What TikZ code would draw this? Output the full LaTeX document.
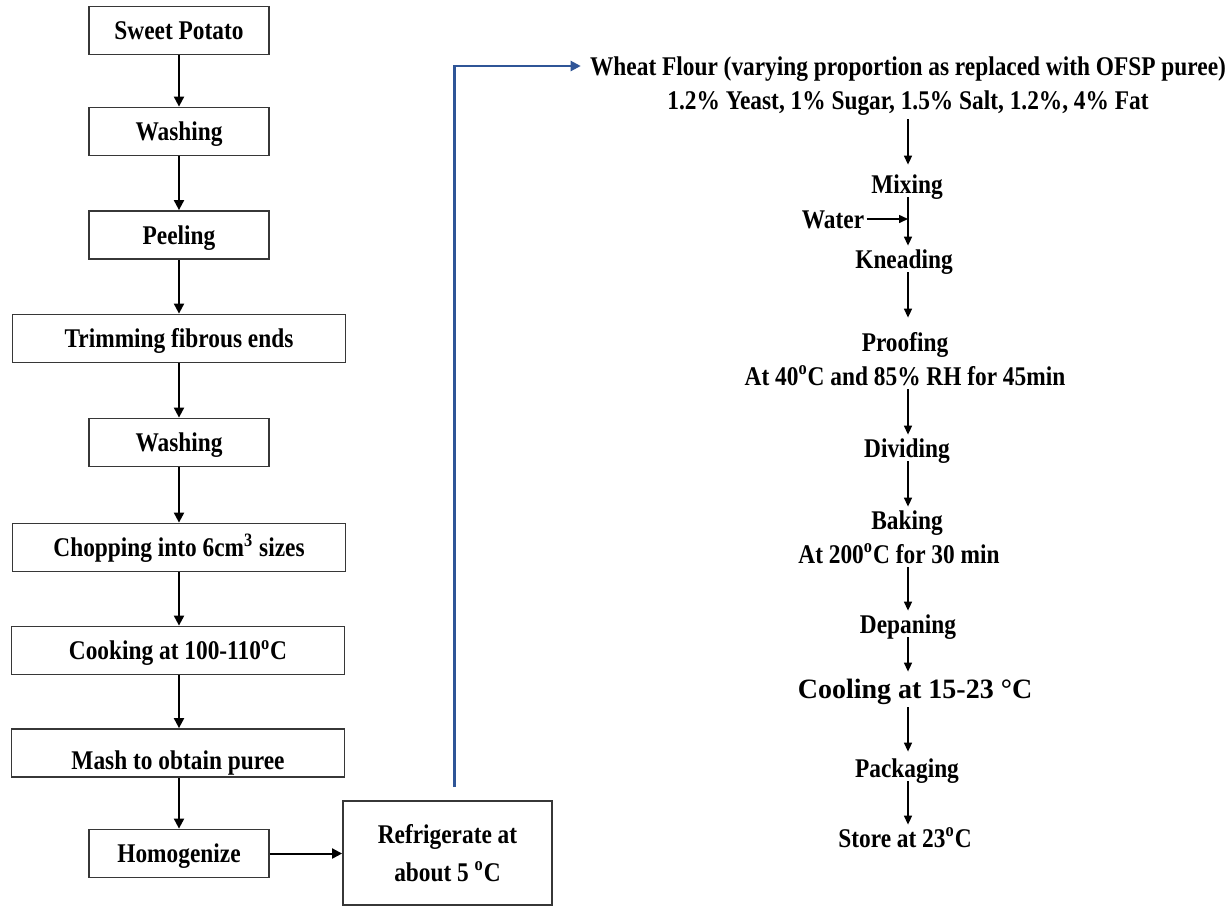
\documentclass[tikz,border=0pt]{standalone}
\usepackage{fontspec}
\setmainfont{Liberation Serif}[FakeStretch=0.865]
\newfontfamily\coolfont{Liberation Serif}
\usetikzlibrary{arrows.meta}
\definecolor{lineblue}{RGB}{47,85,151}
\definecolor{boxline}{RGB}{55,55,55}
\tikzset{
  txtfont/.style={font=\fontsize{13.5pt}{17pt}\selectfont\bfseries},
  box/.style={draw=boxline, line width=0.9pt, minimum width=90pt, minimum height=24pt,
    inner sep=0pt, txtfont, text height=10pt, text depth=1pt},
  widebox/.style={box, minimum width=166.5pt},
  lbl/.style={inner sep=1pt, txtfont, text height=10pt, text depth=1pt},
  larr/.style={line width=1pt, -{Triangle[length=5pt,width=5pt]}},
  rarr/.style={line width=0.75pt, -{Triangle[length=4.5pt,width=4pt]}},
  barr/.style={draw=lineblue, line width=1.1pt, -{Triangle[length=5pt,width=5pt]}, color=lineblue},
}
\begin{document}
\begin{tikzpicture}[x=0.5pt,y=-0.5pt]
\fill[white] (0,0) rectangle (1231,907);
\useasboundingbox (0,0) rectangle (1231,907);

% left column
\node[box] (sp) at (179,30.5) {Sweet Potato};
\node[box] (w1) at (179,131.5) {Washing};
\node[box] (peel) at (179,235) {Peeling};
\node[widebox] (trim) at (179,338.5) {Trimming fibrous ends};
\node[box] (w2) at (179,442.5) {Washing};
\node[widebox] (chop) at (179,547.5) {Chopping into 6cm\textsuperscript{3} sizes};
\node[widebox] (cook) at (178,650.5) {Cooking at 100-110\textsuperscript{o}C};
\node[widebox, text height=16pt, text depth=0pt] (mash) at (178,753) {Mash to obtain puree};
\node[box] (hom) at (179,853.5) {Homogenize};
\node[draw=boxline, line width=0.9pt, minimum width=104.5pt, minimum height=52pt,
  align=center, font=\fontsize{13.5pt}{19pt}\selectfont\bfseries] (ref) at (447.5,853)
  {Refrigerate at\\about 5 \textsuperscript{o}C};

\coordinate (lx) at (179,0);
\draw[larr] (lx |- sp.south) -- (lx |- w1.north);
\draw[larr] (lx |- w1.south) -- (lx |- peel.north);
\draw[larr] (lx |- peel.south) -- (lx |- trim.north);
\draw[larr] (lx |- trim.south) -- (lx |- w2.north);
\draw[larr] (lx |- w2.south) -- (lx |- chop.north);
\draw[larr] (lx |- chop.south) -- (lx |- cook.north);
\draw[larr] (lx |- cook.south) -- (lx |- mash.north);
\draw[larr] (lx |- mash.south) -- (lx |- hom.north);
\draw[larr] (hom.east) -- (hom.east -| ref.west);

% right column
\node[lbl] (wheat1) at (908,66) {Wheat Flour (varying proportion as replaced with OFSP puree)};
\node[lbl] (wheat2) at (908,100) {1.2\% Yeast, 1\% Sugar, 1.5\% Salt, 1.2\%, 4\% Fat};
\node[lbl] (mix) at (907,184) {Mixing};
\node[lbl] (water) at (833,219) {Water};
\node[lbl] (knead) at (904,259) {Kneading};
\node[lbl] (proof) at (905,342) {Proofing};
\node[lbl] (proof2) at (905,376) {At 40\textsuperscript{o}C and 85\% RH for 45min};
\node[lbl] (div) at (907,448) {Dividing};
\node[lbl] (bake) at (907,520) {Baking};
\node[lbl] (bake2) at (899,554) {At 200\textsuperscript{o}C for 30 min};
\node[lbl] (depan) at (908,624) {Depaning};
\node[lbl, font=\coolfont\fontsize{14pt}{17pt}\selectfont\bfseries] (cool) at (915,689) {Cooling at 15-23 °C};
\node[lbl] (pack) at (907,768) {Packaging};
\node[lbl] (store) at (905,838) {Store at 23\textsuperscript{o}C};

\coordinate (ax) at (908,0);
\draw[rarr, shorten <=3pt, shorten >=3pt] (ax |- wheat2.south) -- (ax |- mix.north);
\draw[rarr] (ax |- mix.south) -- (ax |- knead.north);
\draw[rarr, shorten >=5.5pt] (ax |- knead.south) -- (ax |- proof.north);
\draw[rarr] (ax |- proof2.south) -- (ax |- div.north);
\draw[rarr] (ax |- div.south) -- (ax |- bake.north);
\draw[rarr] (ax |- bake2.south) -- (ax |- depan.north);
\draw[rarr, shorten >=2pt] (ax |- depan.south) -- (ax |- cool.north);
\draw[rarr, shorten <=2.5pt, shorten >=1.5pt] (ax |- cool.south) -- (ax |- pack.north);
\draw[rarr] (ax |- pack.south) -- (ax |- store.north);
\draw[rarr] (water.east) -- (water.east -| ax);

% blue connector
\coordinate (bstart) at (454.5,787);
\draw[barr, shorten >=3.5pt] (bstart) -- (bstart |- wheat1.west) -- (wheat1.west);
\end{tikzpicture}
\end{document}
